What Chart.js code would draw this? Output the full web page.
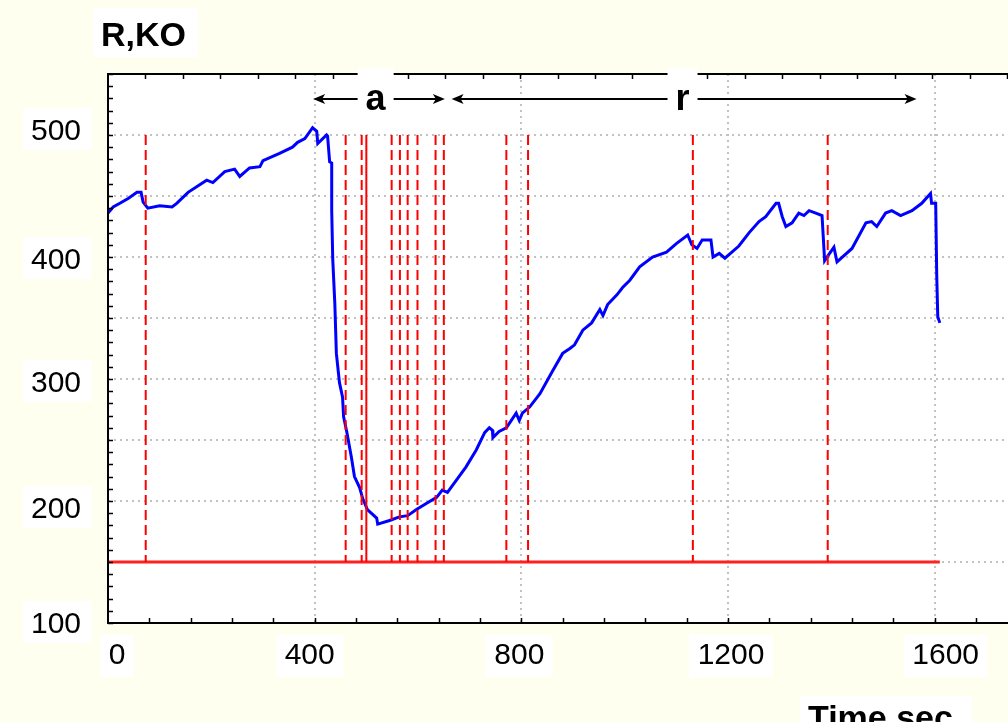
<!DOCTYPE html>
<html>
<head>
<meta charset="utf-8">
<script src="https://cdn.jsdelivr.net/npm/chart.js@4.4.0/dist/chart.umd.min.js"></script>
<style>
  html, body { margin: 0; padding: 0; background: #fffff0; overflow: hidden; }
  #wrap { position: relative; width: 1038px; height: 722px; }
</style>
</head>
<body>
<div id="wrap"><canvas id="rkoChart"></canvas></div>
<script>
// Resistance trace (time in seconds, R in kOhm)
const timeSec = [
  0, 10, 23, 39, 56, 64, 68, 77, 100, 124, 133, 155, 191, 203, 226, 245, 255, 274, 294, 300,
  332, 357, 367, 381, 396, 404, 406, 423, 425, 429, 433, 433, 435, 439, 442, 448, 454, 456, 462, 471,
  477, 487, 493, 502, 520, 522, 545, 564, 580, 597, 616, 636, 647, 657, 674, 693, 713, 729, 738, 744,
  745, 757, 771, 790, 796, 802, 816, 836, 861, 880, 894, 903, 919, 936, 952, 958, 967, 985, 996, 1010,
  1029, 1054, 1081, 1100, 1122, 1130, 1140, 1150, 1167, 1171, 1183, 1194, 1221, 1241, 1260, 1273, 1293, 1298, 1305, 1312,
  1324, 1337, 1347, 1357, 1370, 1382, 1387, 1395, 1405, 1411, 1440, 1467, 1478, 1488, 1505, 1517, 1534, 1556, 1575, 1592,
  1594, 1602, 1604, 1606, 1610
];
const resistance = [
  436, 441, 444, 448, 453, 453, 445, 440, 442, 441, 444, 453, 463, 461, 470, 472, 466, 473, 474, 479,
  485, 490, 494, 497, 506, 503, 493, 500, 499, 478, 477, 438, 398, 362, 321, 297, 285, 269, 257, 236,
  220, 211, 202, 193, 186, 181, 184, 187, 188, 193, 198, 203, 209, 207, 217, 228, 242, 256, 260, 258,
  252, 257, 260, 272, 266, 272, 277, 288, 307, 321, 325, 328, 340, 346, 357, 352, 361, 369, 375, 381,
  392, 400, 404, 411, 418, 410, 407, 414, 414, 400, 403, 399, 409, 420, 429, 433, 444, 444, 433, 425,
  428, 436, 434, 438, 436, 434, 397, 402, 408, 396, 407, 428, 429, 425, 436, 438, 434, 438, 444, 452,
  444, 444, 385, 351, 346
];

// Event markers (vertical red lines) and the base level line
const markerTimes = [73, 460, 491, 500, 549, 565, 580, 599, 634, 650, 771, 813, 1132, 1393];
const solidMarkers = [500];
const markerTop = 500;
const baseLevel = 150;
const baseStart = 0;
const baseEnd = 1610;

// Phase annotations at the top
const phaseLabels = ["a", "r"];
const phaseFrom = [397, 665];
const phaseTo = [652, 1565];
const phaseLabelAt = [518, 1112];

const xTickLabels = [0, 400, 800, 1200, 1600];
const yTickLabels = [100, 200, 300, 400, 500];
const yAxisTitle = "R,KO";
const xAxisTitle = "Time,sec.";

const FONT = '"Liberation Sans", Arial, sans-serif';

// small hand nudges so labels sit where the original placed them
const xLabelNudge = { 0: 9, 400: -5, 800: -2, 1200: 3, 1600: 11 };
const yLabelNudge = { 100: -1, 200: 6, 300: 2, 400: 1, 500: -6 };

function whiteBox(ctx, x, y, w, h) {
  ctx.fillStyle = "#ffffff";
  ctx.fillRect(x, y, w, h);
}

function arrowHead(ctx, x, y, dir) {
  ctx.beginPath();
  ctx.moveTo(x, y);
  ctx.lineTo(x - dir * 12, y - 5);
  ctx.lineTo(x - dir * 9, y);
  ctx.lineTo(x - dir * 12, y + 5);
  ctx.closePath();
  ctx.fill();
}

const decorPlugin = {
  id: "decor",
  beforeDraw(chart) {
    const { ctx, chartArea: ca } = chart;
    ctx.save();
    ctx.fillStyle = "#fffff0";
    ctx.fillRect(0, 0, chart.width, chart.height);
    ctx.fillStyle = "#ffffff";
    ctx.fillRect(ca.left, ca.top, ca.right - ca.left, ca.bottom - ca.top);
    ctx.restore();
  },
  afterDatasetsDraw(chart) {
    const { ctx, chartArea: ca } = chart;
    const xs = chart.scales.x;
    const ys = chart.scales.y;
    ctx.save();

    // frame: top, left, bottom
    ctx.strokeStyle = "#000";
    ctx.lineWidth = 2;
    ctx.beginPath();
    ctx.moveTo(ca.right, ca.top);
    ctx.lineTo(ca.left, ca.top);
    ctx.lineTo(ca.left, ca.bottom);
    ctx.lineTo(ca.right, ca.bottom);
    ctx.stroke();

    // inward minor ticks
    ctx.lineWidth = 1.5;
    ctx.beginPath();
    for (let v = ys.min; v <= ys.max; v += 10) {
      const y = Math.round(ys.getPixelForValue(v)) + 0.5;
      ctx.moveTo(ca.left, y);
      ctx.lineTo(ca.left + 5, y);
    }
    for (let v = 80; v <= xs.max; v += 80) {
      const x = Math.round(xs.getPixelForValue(v)) + 0.5;
      ctx.moveTo(x, ca.bottom);
      ctx.lineTo(x, ca.bottom - 5);
    }
    for (let v = 72.5; v <= xs.max; v += 72.5) {
      const x = Math.round(xs.getPixelForValue(v)) + 0.5;
      ctx.moveTo(x, ca.top);
      ctx.lineTo(x, ca.top + 5);
    }
    ctx.stroke();

    // phase arrows
    const ay = 99;
    ctx.fillStyle = "#000";
    ctx.lineWidth = 2;
    phaseLabels.forEach((lab, i) => {
      const x1 = xs.getPixelForValue(phaseFrom[i]);
      const x2 = xs.getPixelForValue(phaseTo[i]);
      ctx.beginPath();
      ctx.moveTo(x1 + 6, ay);
      ctx.lineTo(x2 - 6, ay);
      ctx.stroke();
      ctx.fillStyle = "#000";
      arrowHead(ctx, x1, ay, -1);
      arrowHead(ctx, x2, ay, 1);
    });
    ctx.font = "bold 36px " + FONT;
    ctx.textAlign = "center";
    ctx.textBaseline = "alphabetic";
    phaseLabels.forEach((lab, i) => {
      const cx = xs.getPixelForValue(phaseLabelAt[i]);
      const w = ctx.measureText(lab).width + 16;
      whiteBox(ctx, cx - w / 2, 68, w, 44);
      ctx.fillStyle = "#000";
      ctx.fillText(lab, cx, 110);
    });

    // y tick labels
    ctx.font = "30px " + FONT;
    yTickLabels.forEach((v) => {
      const cy = ys.getPixelForValue(v) + (yLabelNudge[v] || 0);
      whiteBox(ctx, 23, cy - 21, 69, 42);
      ctx.fillStyle = "#000";
      ctx.textAlign = "center";
      ctx.fillText(String(v), 56, cy + 11);
    });

    // x tick labels
    xTickLabels.forEach((v) => {
      const cx = xs.getPixelForValue(v) + (xLabelNudge[v] || 0);
      const w = ctx.measureText(String(v)).width + 17;
      whiteBox(ctx, cx - w / 2, 635, w, 42);
      ctx.fillStyle = "#000";
      ctx.textAlign = "center";
      ctx.fillText(String(v), cx, 664);
    });

    // axis titles
    ctx.textAlign = "left";
    ctx.font = "bold 34px " + FONT;
    whiteBox(ctx, 93, 8, 105, 49);
    ctx.fillStyle = "#000";
    ctx.fillText(yAxisTitle, 101, 46);

    ctx.font = "bold 34px " + FONT;
    whiteBox(ctx, 800, 696, 172, 40);
    ctx.fillStyle = "#000";
    ctx.fillText(xAxisTitle, 808, 729);

    ctx.restore();
  },
};

const datasets = [];

markerTimes.forEach((t) => {
  datasets.push({
    data: [{ x: t, y: markerTop }, { x: t, y: baseLevel }],
    borderColor: "#ff0000",
    borderWidth: 2,
    borderDash: solidMarkers.includes(t) ? [] : [10, 5],
    pointRadius: 0,
  });
});

datasets.push({
  data: [{ x: baseStart, y: baseLevel }, { x: baseEnd, y: baseLevel }],
  borderColor: "#ff2020",
  borderWidth: 3,
  pointRadius: 0,
});

// blue trace drawn last so it sits under the red lines (dataset 0 is on top)
datasets.push({
  data: timeSec.map((t, i) => ({ x: t, y: resistance[i] })),
  borderColor: "#0000ff",
  borderWidth: 3,
  pointRadius: 0,
  tension: 0,
});

new Chart(document.getElementById("rkoChart"), {
  type: "line",
  data: { datasets },
  options: {
    responsive: true,
    maintainAspectRatio: false,
    animation: false,
    layout: { padding: { top: 74, left: 0, right: 0, bottom: 0 } },
    plugins: {
      legend: { display: false },
      tooltip: { enabled: false },
    },
    scales: {
      x: {
        type: "linear",
        min: 0,
        max: 1800,
        afterFit: (s) => { s.height = 99; },
        ticks: { display: false, stepSize: 400 },
        grid: { color: "#c2c2c2", lineWidth: 2, drawTicks: false },
        border: { display: false, dash: [2, 4] },
      },
      y: {
        min: 100,
        max: 550,
        afterFit: (s) => { s.width = 108; },
        ticks: { display: false, stepSize: 50 },
        grid: { color: "#c2c2c2", lineWidth: 2, drawTicks: false },
        border: { display: false, dash: [2, 4] },
      },
    },
  },
  plugins: [decorPlugin],
});
</script>
</body>
</html>
